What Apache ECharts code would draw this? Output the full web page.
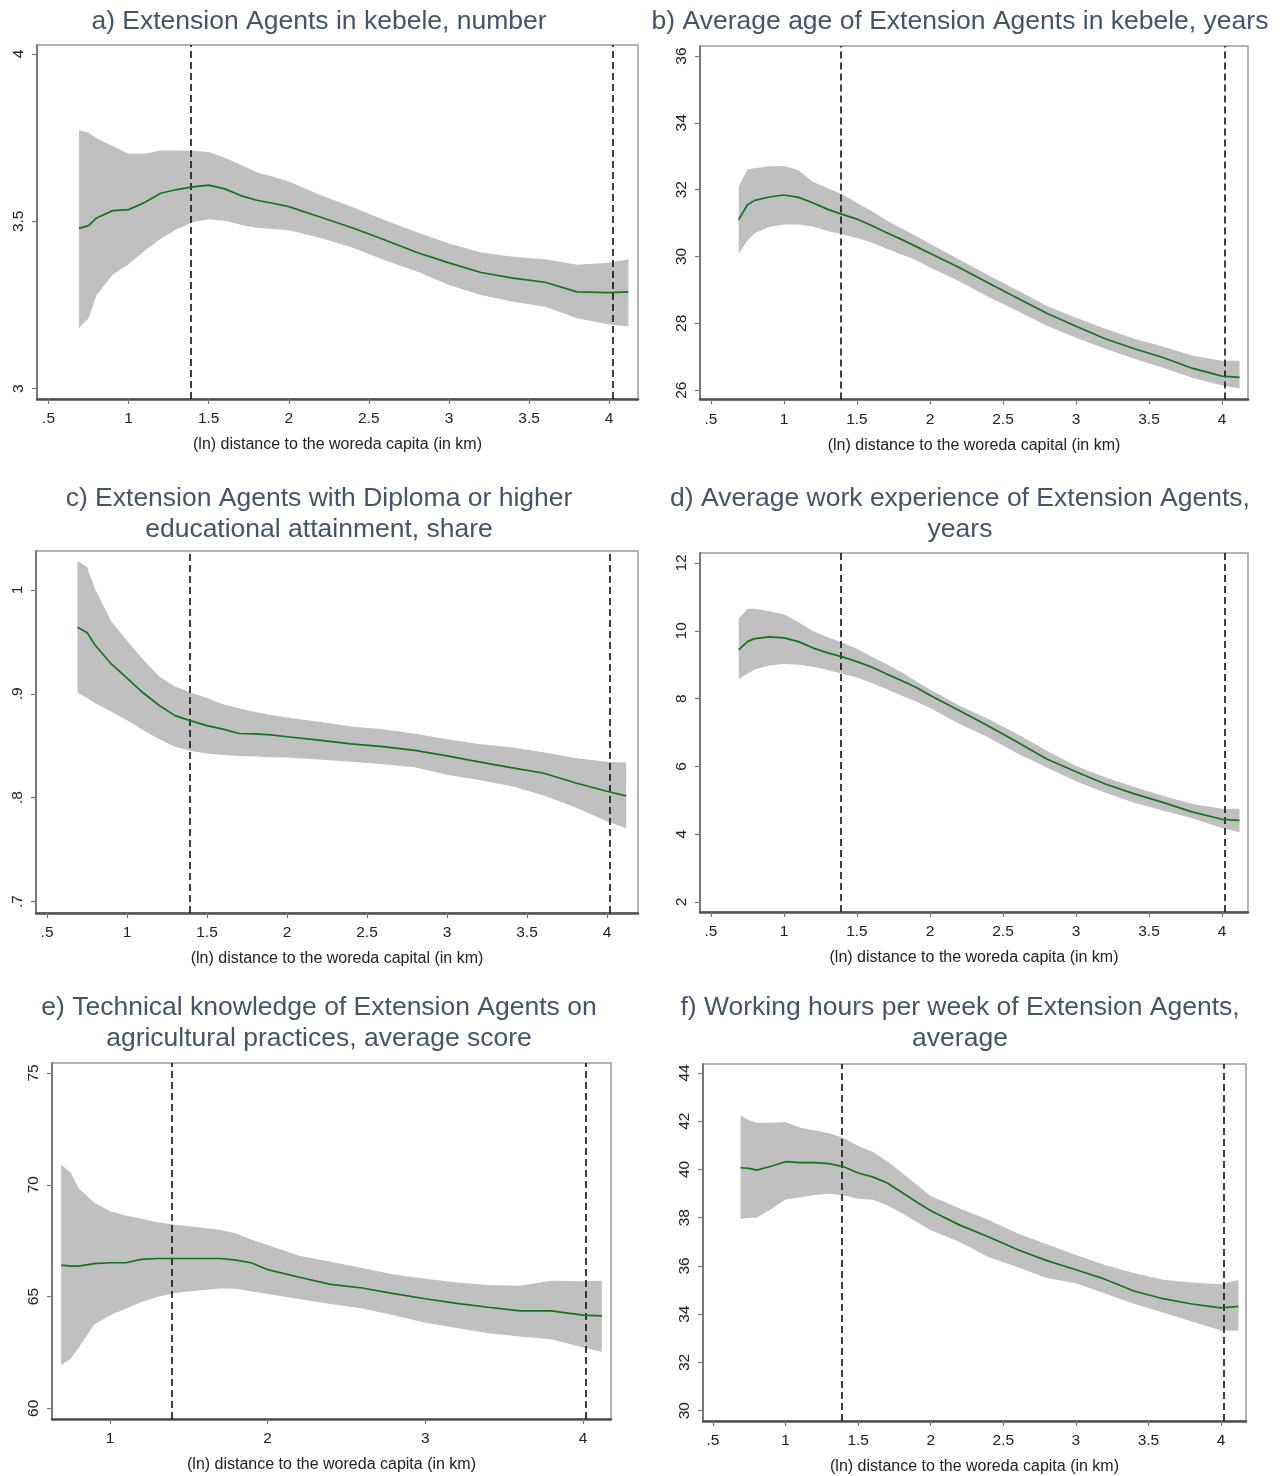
<!DOCTYPE html>
<html><head><meta charset="utf-8">
<script src="https://cdn.jsdelivr.net/npm/echarts@6/dist/echarts.min.js"></script>
<style>html,body{margin:0;padding:0;background:#fff}#c{width:1284px;height:1476px}</style>
</head><body><div id="c"></div>
<script>
// (ln) distance to the woreda capital
const distance = [0.69,0.75,0.8,0.9,1.0,1.1,1.2,1.3,1.4,1.5,1.6,1.7,1.8,1.9,2.0,2.2,2.4,2.6,2.8,3.0,3.2,3.4,3.6,3.8,4.0,4.12];

// a) Extension Agents in kebele, number
const aMean  = [3.479,3.487,3.510,3.532,3.535,3.556,3.584,3.595,3.603,3.608,3.597,3.577,3.563,3.554,3.544,3.512,3.480,3.444,3.407,3.376,3.347,3.330,3.318,3.289,3.287,3.289];
const aUpper = [3.772,3.765,3.748,3.725,3.702,3.702,3.712,3.712,3.711,3.707,3.690,3.669,3.647,3.633,3.619,3.578,3.542,3.503,3.467,3.434,3.407,3.394,3.387,3.370,3.376,3.387];
const aLower = [3.181,3.210,3.280,3.340,3.372,3.412,3.448,3.476,3.497,3.506,3.502,3.490,3.481,3.477,3.473,3.450,3.421,3.384,3.350,3.310,3.280,3.260,3.245,3.210,3.192,3.186];

// b) Average age, years
const bMean  = [31.10,31.55,31.68,31.78,31.84,31.77,31.60,31.41,31.26,31.12,30.93,30.72,30.52,30.31,30.10,29.67,29.21,28.75,28.30,27.91,27.54,27.24,26.97,26.65,26.42,26.38];
const bUpper = [32.10,32.60,32.64,32.70,32.71,32.58,32.23,32.04,31.86,31.60,31.36,31.09,30.85,30.62,30.38,29.91,29.44,28.99,28.52,28.17,27.84,27.54,27.30,27.03,26.88,26.88];
const bLower = [30.08,30.47,30.70,30.88,30.96,30.96,30.90,30.76,30.66,30.55,30.42,30.24,30.07,29.90,29.67,29.26,28.79,28.37,27.93,27.57,27.24,26.94,26.66,26.36,26.14,26.05];

// c) Diploma or higher, share
const cMean  = [0.964,0.959,0.947,0.929,0.915,0.901,0.889,0.879,0.874,0.8694,0.866,0.8618,0.8614,0.8605,0.8587,0.8555,0.8519,0.8492,0.8455,0.8403,0.8345,0.829,0.8238,0.8144,0.8062,0.8017];
const cUpper = [1.028,1.022,1.001,0.970,0.951,0.933,0.917,0.907,0.901,0.896,0.890,0.886,0.8825,0.8795,0.8772,0.8732,0.8685,0.866,0.8616,0.8563,0.8518,0.8485,0.8437,0.8382,0.8345,0.8338];
const cLower = [0.901,0.896,0.891,0.883,0.8745,0.865,0.8565,0.849,0.845,0.8426,0.8412,0.8402,0.8396,0.839,0.8386,0.8368,0.8347,0.8323,0.8293,0.8222,0.8171,0.8113,0.8023,0.7907,0.7773,0.7706];

// d) Work experience, years
const dMean  = [9.44,9.68,9.77,9.82,9.79,9.68,9.49,9.35,9.23,9.09,8.93,8.73,8.54,8.34,8.10,7.65,7.19,6.71,6.22,5.84,5.48,5.19,4.93,4.65,4.44,4.41];
const dUpper = [10.36,10.64,10.65,10.58,10.48,10.25,9.99,9.81,9.65,9.47,9.24,9.02,8.79,8.53,8.27,7.80,7.40,6.95,6.46,6.01,5.68,5.39,5.13,4.89,4.75,4.75];
const dLower = [8.57,8.73,8.86,8.98,9.02,9.00,8.94,8.84,8.73,8.62,8.46,8.28,8.10,7.92,7.72,7.26,6.85,6.38,5.97,5.56,5.22,4.93,4.69,4.46,4.18,4.06];

// e) Technical knowledge, average score
const eMean  = [66.40,66.36,66.36,66.47,66.51,66.51,66.66,66.70,66.70,66.70,66.70,66.70,66.63,66.50,66.20,65.86,65.54,65.38,65.13,64.90,64.69,64.52,64.36,64.36,64.17,64.13];
const eUpper = [70.90,70.55,69.85,69.20,68.82,68.62,68.48,68.32,68.22,68.14,68.07,67.98,67.82,67.54,67.30,66.82,66.55,66.27,65.98,65.79,65.63,65.51,65.48,65.70,65.68,65.70];
const eLower = [61.92,62.22,62.70,63.75,64.16,64.45,64.75,64.98,65.15,65.22,65.29,65.36,65.35,65.22,65.11,64.89,64.66,64.46,64.16,63.83,63.59,63.36,63.21,63.09,62.72,62.53];

// f) Working hours per week, average
const fMean  = [40.07,40.04,39.97,40.13,40.32,40.28,40.28,40.24,40.11,39.85,39.69,39.44,39.05,38.66,38.29,37.69,37.20,36.67,36.22,35.84,35.45,34.96,34.64,34.42,34.26,34.32];
const fUpper = [42.23,42.04,41.93,41.93,41.97,41.73,41.62,41.50,41.30,40.97,40.73,40.34,39.86,39.38,38.90,38.38,37.90,37.34,36.90,36.45,36.04,35.71,35.43,35.31,35.24,35.42];
const fLower = [37.94,38.00,38.00,38.35,38.75,38.84,38.94,38.99,38.93,38.78,38.74,38.51,38.19,37.83,37.48,36.99,36.36,35.94,35.50,35.28,34.86,34.43,34.07,33.70,33.32,33.31];

// vertical reference lines (ln 4 km and ln 55 km)
const cutoffs = [1.386, 4.02];

// tick values and labels
const xTicksHalf = [0.5,1,1.5,2,2.5,3,3.5,4];
const xLabelsHalf = ['.5','1','1.5','2','2.5','3','3.5','4'];
const xTicksWhole = [1,2,3,4];
const xLabelsWhole = ['1','2','3','4'];
const aYTicks = [3,3.5,4];            const aYLabels = ['3','3.5','4'];
const bYTicks = [26,28,30,32,34,36];  const bYLabels = ['26','28','30','32','34','36'];
const cYTicks = [0.7,0.8,0.9,1];      const cYLabels = ['.7','.8','.9','1'];
const dYTicks = [2,4,6,8,10,12];      const dYLabels = ['2','4','6','8','10','12'];
const eYTicks = [60,65,70,75];        const eYLabels = ['60','65','70','75'];
const fYTicks = [30,32,34,36,38,40,42,44]; const fYLabels = ['30','32','34','36','38','40','42','44'];

const titles = [
  'a) Extension Agents in kebele, number',
  'b) Average age of Extension Agents in kebele, years',
  'c) Extension Agents with Diploma or higher\neducational attainment, share',
  'd) Average work experience of Extension Agents,\nyears',
  'e) Technical knowledge of Extension Agents on\nagricultural practices, average score',
  'f) Working hours per week of Extension Agents,\naverage'
];
const xTitles = [
  '(ln) distance to the woreda capita (in km)',
  '(ln) distance to the woreda capital (in km)',
  '(ln) distance to the woreda capital (in km)',
  '(ln) distance to the woreda capita (in km)',
  '(ln) distance to the woreda capita (in km)',
  '(ln) distance to the woreda capita (in km)'
];

const panels = [
  {mean:aMean, up:aUpper, lo:aLower, xt:xTicksHalf, xl:xLabelsHalf, yt:aYTicks, yl:aYLabels,
   rect:{left:37, top:45, width:601, height:354}, xr:[0.428,4.18], yr:[2.969,4.027], tx:319, ty:6.5},
  {mean:bMean, up:bUpper, lo:bLower, xt:xTicksHalf, xl:xLabelsHalf, yt:bYTicks, yl:bYLabels,
   rect:{left:700, top:46, width:548, height:353.5}, xr:[0.425,4.178], yr:[25.72,36.3], tx:960, ty:6.5},
  {mean:cMean, up:cUpper, lo:cLower, xt:xTicksHalf, xl:xLabelsHalf, yt:cYTicks, yl:cYLabels,
   rect:{left:36, top:551, width:602, height:362}, xr:[0.431,4.194], yr:[0.689,1.0375], tx:319, ty:483.5},
  {mean:dMean, up:dUpper, lo:dLower, xt:xTicksHalf, xl:xLabelsHalf, yt:dYTicks, yl:dYLabels,
   rect:{left:700, top:553, width:548, height:359}, xr:[0.425,4.178], yr:[1.705,12.295], tx:960, ty:483.5},
  {mean:eMean, up:eUpper, lo:eLower, xt:xTicksWhole, xl:xLabelsWhole, yt:eYTicks, yl:eYLabels,
   rect:{left:52, top:1063, width:559, height:356}, xr:[0.632,4.178], yr:[59.52,75.447], tx:319, ty:992.5},
  {mean:fMean, up:fUpper, lo:fLower, xt:xTicksHalf, xl:xLabelsHalf, yt:fYTicks, yl:fYLabels,
   rect:{left:703, top:1064, width:543, height:358}, xr:[0.431,4.172], yr:[29.57,44.37], tx:960, ty:992.5}
];

const FONT = '"Liberation Sans", Arial, sans-serif';
const option = {animation:false, backgroundColor:'#fff', title:[], grid:[], xAxis:[], yAxis:[], series:[]};

panels.forEach((p, i) => {
  option.title.push({
    text: titles[i], left: p.tx, top: p.ty, textAlign: 'center', padding: 0,
    textStyle: {color:'#44546A', fontSize:26.5, fontWeight:'normal', fontFamily:FONT, lineHeight:31}
  });
  option.grid.push(Object.assign({show:true, borderColor:'#9a9a9a', borderWidth:1.5, backgroundColor:'#fff'}, p.rect));
  option.xAxis.push({
    type:'value', gridIndex:i, min:p.xr[0], max:p.xr[1],
    name: xTitles[i], nameLocation:'middle', nameGap:38,
    nameTextStyle:{color:'#222', fontSize:16, fontFamily:FONT},
    axisLine:{show:true, onZero:false, lineStyle:{color:'#505050', width:2.5}},
    axisTick:{show:true, length:5, customValues:p.xt, lineStyle:{color:'#777', width:1.2}},
    axisLabel:{show:true, margin:12, customValues:p.xt, color:'#222', fontSize:15.5, fontFamily:FONT,
      formatter: v => p.xl[p.xt.indexOf(v)]},
    splitLine:{show:false}
  });
  option.yAxis.push({
    type:'value', gridIndex:i, min:p.yr[0], max:p.yr[1],
    axisLine:{show:true, onZero:false, lineStyle:{color:'#666', width:1.5}},
    axisTick:{show:true, length:5, customValues:p.yt, lineStyle:{color:'#777', width:1.2}},
    axisLabel:{show:true, rotate:90, margin:10.5, customValues:p.yt, color:'#222', fontSize:15.5, fontFamily:FONT,
      formatter: v => p.yl[p.yt.indexOf(v)]},
    splitLine:{show:false}
  });
  // confidence band: one polygon through upper bound then back along lower bound
  option.series.push({
    type:'custom', xAxisIndex:i, yAxisIndex:i, silent:true, z:1,
    data: distance.map((x, k) => [x, p.lo[k], p.up[k]]),
    encode:{x:0, y:[1,2]},
    renderItem: (params, api) => {
      if (params.dataIndex !== 0) return null;
      const top = distance.map((x, k) => api.coord([x, p.up[k]]));
      const bot = distance.map((x, k) => api.coord([x, p.lo[k]])).reverse();
      return {type:'polygon', shape:{points: top.concat(bot)}, style:{fill:'#c0c0c0'}};
    }
  });
  option.series.push({
    type:'line', xAxisIndex:i, yAxisIndex:i, symbol:'none', silent:true, z:5,
    lineStyle:{color:'#17731b', width:1.7},
    data: distance.map((x, k) => [x, p.mean[k]]),
    markLine:{
      silent:true, symbol:['none','none'], label:{show:false},
      lineStyle:{color:'#111', width:1.6, type:[7,4]},
      data: cutoffs.map(c => ({xAxis:c}))
    }
  });
});

const chart = echarts.init(document.getElementById('c'), null, {renderer:'canvas'});
chart.setOption(option);
</script>
</body></html>
